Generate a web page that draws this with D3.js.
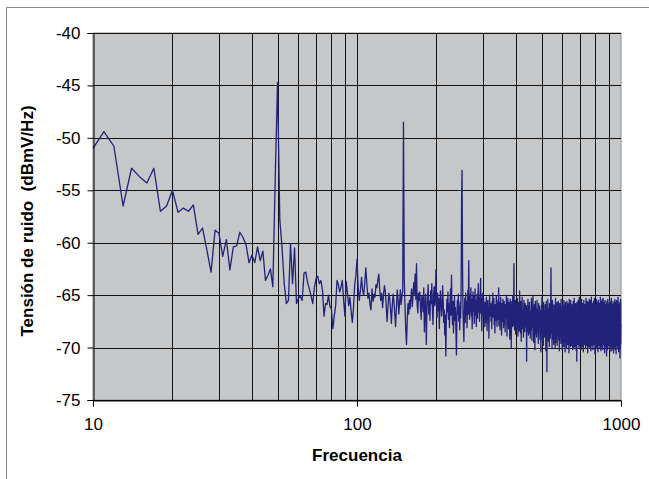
<!DOCTYPE html>
<html>
<head>
<meta charset="utf-8">
<script src="https://cdn.jsdelivr.net/npm/d3@7"></script>
<style>
  body { margin: 0; background: #fff; }
  text { font-family: Arial, "Liberation Sans", sans-serif; }
</style>
</head>
<body>
<div id="chart"></div>
<script>
// noise spectrum, 1 Hz steps
const lowStart = 10;   // 10..90 Hz
const lowBand = [
  -51.0,-49.4,-50.8,-56.5,-52.9,-53.7,-54.3,-52.9,-57.0,-56.5,
  -55.0,-57.1,-56.7,-57.0,-56.4,-59.2,-58.6,-60.7,-62.8,-58.8,
  -59.1,-61.3,-59.7,-62.6,-60.4,-60.3,-59.0,-59.5,-60.2,-61.9,
  -61.2,-61.9,-60.4,-61.7,-60.8,-63.6,-63.1,-62.5,-64.2,-54.0,
  -44.7,
  -57.8,-60.4,-63.9,-65.8,-65.5,-60.1,-63.9,-60.5,-65.8,-65.3,
  -65.1,-65.5,-62.9,-62.8,-63.8,-64.4,-65.1,-65.8,-64.2,-63.4,
  -63.2,-63.9,-63.6,-64.5,-67.0,-65.8,-65.9,-65.0,-66.1,-66.3,
  -68.2,-67.0,-66.0,-63.6,-64.0,-64.7,-64.2,-63.6,-65.5,-67.0
];

const midStart = 91;   // 91..300 Hz
const midBand = [
  -63.7,-64.8,-66.0,-65.2,-66.5,-67.6,-66.2,-64.0,-63.2,-61.6,
  -64.2,-65.5,-64.6,-63.3,-64.5,-65.0,-63.8,-62.4,-64.0,-65.3,
  -64.8,-65.9,-66.4,-64.4,-65.6,-64.9,-65.2,-64.0,-64.3,-63.5,
  -63.0,-64.6,-65.5,-64.8,-66.2,-65.0,-64.1,-64.6,-66.0,-67.5,
  -66.1,-64.8,-65.3,-66.4,-67.7,-66.0,-64.9,-65.6,-66.8,-68.0,
  -66.2,-64.5,-65.4,-66.8,-65.7,-64.5,-65.9,-65.1,-64.6,-48.5,
  -63.5,-66.0,-68.3,-69.7,-67.4,-65.8,-66.8,-65.5,-66.3,-65.2,
  -64.4,-66.1,-65.0,-63.8,-64.9,-63.0,-65.4,-62.0,-65.9,-66.7,
  -64.8,-65.5,-64.7,-66.2,-67.3,-65.1,-65.3,-66.6,-64.3,-68.5,
  -66.0,-64.9,-69.7,-66.5,-65.2,-64.0,-66.8,-65.6,-67.4,-64.6,
  -65.8,-63.9,-66.3,-67.8,-65.0,-64.2,-66.0,-65.4,-62.6,-65.9,
  -67.1,-64.8,-66.5,-65.3,-68.2,-66.0,-64.6,-65.7,-67.0,-66.2,
  -64.1,-65.5,-67.6,-66.4,-68.8,-66.9,-70.8,-67.2,-65.4,-66.6,
  -64.7,-67.3,-65.8,-68.1,-66.0,-64.4,-66.9,-63.1,-66.3,-67.8,
  -65.6,-68.6,-66.7,-65.1,-67.4,-66.2,-68.4,-70.7,-67.0,-65.5,
  -66.8,-64.9,-67.5,-66.1,-68.3,-65.7,-67.2,-64.6,-56.0,-53.1,
  -62.0,-66.4,-68.0,-69.4,-66.7,-65.3,-67.6,-64.8,-66.9,-65.6,
  -68.1,-66.3,-64.5,-66.8,-61.7,-65.9,-67.3,-65.0,-66.6,-64.3,
  -67.0,-65.4,-68.2,-66.0,-64.7,-66.5,-65.1,-67.7,-66.2,-64.4,
  -66.9,-65.5,-68.0,-66.4,-64.9,-67.2,-65.8,-63.9,-66.6,-65.2,
  -67.5,-66.1,-64.6,-63.4,-66.7,-65.3,-68.4,-66.0,-64.8,-66.9
];

const highStart = 301; // 301..1000 Hz
const highBand = [
  -66.8,-65.4,-67.2,-66.1,-68.0,-65.7,-66.5,-67.6,-65.2,-66.9,-68.4,-66.0,-65.5,-67.3,-66.6,-69.1,-66.2,-65.0,-67.0,-66.4,
  -65.8,-67.5,-66.3,-68.2,-65.6,-66.9,-64.8,-67.1,-66.0,-65.3,-67.8,-66.5,-68.6,-65.9,-66.7,-67.4,-65.1,-66.2,-68.0,-66.8,
  -67.3,-65.5,-66.4,-64.3,-67.9,-66.1,-65.7,-68.3,-66.6,-65.2,-67.0,-66.3,-68.8,-65.8,-66.9,-67.5,-65.4,-66.0,-68.1,-66.7,
  -65.6,-67.7,-66.2,-68.5,-65.9,-66.8,-67.2,-65.0,-66.5,-68.9,-66.1,-67.4,-65.3,-66.6,-68.2,-67.0,-65.7,-66.3,-69.2,-66.9,
  -65.4,-67.6,-66.0,-70.0,-66.8,-65.6,-67.3,-68.0,-65.1,-66.7,-67.9,-65.8,-62.0,-66.4,-68.3,-66.2,-67.1,-65.5,-68.7,-66.5,
  -67.4,-65.9,-68.1,-66.6,-65.3,-67.2,-68.9,-66.0,-67.6,-65.7,-66.8,-68.4,-64.6,-67.0,-66.3,-68.6,-65.6,-67.3,-69.4,-66.1,
  -67.8,-65.2,-66.9,-68.2,-66.5,-67.5,-69.0,-66.4,-65.5,-67.7,-66.2,-68.5,-67.1,-65.8,-68.0,-66.7,-67.9,-66.0,-71.3,-67.2,
  -66.3,-68.4,-67.0,-65.4,-67.6,-68.8,-66.1,-67.3,-68.6,-65.7,-67.4,-66.5,-69.1,-66.8,-67.9,-68.3,-66.0,-65.3,-67.5,-69.3,
  -66.6,-67.2,-68.1,-65.0,-67.8,-66.2,-69.5,-66.9,-68.0,-65.9,-67.1,-70.2,-66.7,-65.6,-68.4,-67.0,-68.7,-66.3,-69.0,-67.4,
  -65.5,-67.9,-68.5,-66.4,-67.3,-69.6,-66.8,-65.8,-68.2,-67.0,-66.1,-68.0,-69.2,-66.5,-67.7,-68.9,-70.4,-67.1,-66.0,-68.6,
  -66.7,-65.2,-68.3,-69.3,-66.2,-67.5,-67.0,-69.8,-65.7,-67.8,-68.5,-66.4,-67.2,-69.0,-67.6,-65.9,-68.1,-66.8,-70.3,-67.4,
  -65.6,-68.0,-67.1,-72.3,-66.5,-68.7,-67.3,-65.4,-68.4,-66.9,-69.4,-66.3,-67.9,-67.0,-69.9,-65.8,-68.2,-67.5,-66.1,-69.1,
  -67.2,-65.0,-62.4,-66.6,-68.6,-66.2,-67.7,-70.1,-66.8,-65.5,-68.3,-69.2,-66.4,-67.8,-67.1,-69.7,-65.9,-68.0,-66.7,-68.9,
  -66.0,-67.6,-70.0,-66.9,-65.3,-68.5,-67.4,-69.5,-66.3,-67.0,-68.2,-65.7,-69.8,-67.3,-66.5,-68.8,-66.8,-68.4,-65.6,-67.9,
  -69.3,-66.1,-67.2,-70.3,-68.0,-65.8,-67.5,-69.0,-66.6,-68.3,-66.9,-69.6,-65.4,-67.7,-68.7,-66.2,-68.1,-67.0,-70.2,-67.3,
  -65.9,-68.4,-66.7,-69.4,-66.3,-67.6,-69.9,-65.5,-68.2,-67.1,-69.1,-66.0,-67.8,-70.4,-66.8,-65.7,-68.6,-67.4,-69.5,-66.5,
  -67.7,-70.0,-66.4,-65.6,-68.9,-67.2,-66.1,-69.7,-68.1,-65.8,-67.0,-69.3,-67.5,-66.2,-70.5,-68.0,-65.4,-67.3,-68.8,-66.6,
  -66.0,-68.5,-69.9,-67.1,-65.5,-69.2,-67.6,-66.3,-69.8,-68.2,-65.9,-66.8,-69.0,-67.9,-66.4,-70.2,-68.3,-66.7,-65.6,-68.7,
  -67.4,-66.1,-70.1,-68.4,-65.3,-67.0,-69.6,-67.7,-66.0,-69.9,-68.6,-66.5,-65.8,-69.1,-67.2,-66.6,-70.3,-68.1,-66.9,-71.3,
  -65.7,-68.3,-69.4,-67.0,-66.2,-69.7,-67.8,-65.5,-68.9,-68.0,-66.4,-67.1,-70.0,-67.5,-65.2,-69.5,-68.5,-66.3,-67.3,-69.8,
  -66.8,-65.6,-68.7,-67.9,-66.1,-70.2,-68.2,-66.6,-65.4,-69.3,-67.6,-66.5,-69.9,-68.4,-67.0,-65.8,-69.6,-67.2,-66.0,-70.4,
  -68.1,-66.7,-65.5,-69.0,-67.8,-66.2,-69.7,-68.3,-65.9,-67.1,-69.5,-67.4,-66.3,-70.1,-68.6,-66.9,-65.3,-68.8,-67.7,-66.1,
  -69.8,-68.0,-67.0,-65.6,-69.2,-67.5,-66.4,-70.5,-68.2,-66.8,-65.7,-69.1,-67.9,-66.0,-69.9,-68.5,-66.6,-65.4,-69.4,-67.3,
  -66.2,-70.0,-68.4,-67.1,-65.5,-68.9,-67.8,-66.3,-70.3,-68.1,-67.2,-65.2,-69.3,-67.6,-66.5,-69.8,-68.3,-66.9,-65.8,-68.7,
  -67.4,-66.0,-70.2,-68.6,-66.7,-65.6,-69.5,-67.7,-66.1,-69.7,-68.0,-67.0,-65.3,-69.1,-67.5,-66.4,-70.6,-68.2,-66.8,-65.9,
  -69.6,-67.9,-66.2,-69.9,-68.5,-66.6,-65.4,-69.2,-67.8,-66.0,-70.1,-68.3,-67.3,-65.7,-68.8,-67.6,-66.5,-70.4,-68.1,-66.9,
  -65.5,-69.4,-67.2,-66.3,-69.8,-68.4,-67.0,-65.8,-69.5,-67.7,-66.1,-70.0,-68.2,-66.7,-65.2,-69.0,-67.9,-66.4,-70.3,-68.6,
  -67.1,-65.6,-69.3,-67.4,-66.6,-69.9,-68.7,-66.8,-65.4,-68.9,-67.8,-66.2,-70.2,-68.0,-67.2,-65.3,-69.6,-67.5,-66.5,-69.7,
  -68.3,-66.9,-65.7,-69.1,-67.3,-66.0,-70.5,-68.1,-67.0,-65.5,-69.8,-67.6,-66.4,-69.9,-68.5,-66.7,-65.9,-69.4,-67.1,-66.3,
  -70.1,-70.8,-66.8,-65.6,-69.0,-67.7,-66.1,-70.2,-68.4,-67.2,-65.4,-69.5,-67.4,-66.6,-69.8,-68.0,-66.9,-65.8,-69.6,-67.5,
  -66.2,-70.0,-68.6,-66.7,-65.5,-69.2,-67.1,-66.4,-70.4,-68.3,-67.0,-65.7,-69.4,-67.8,-66.3,-69.9,-68.1,-66.8,-65.3,-69.7,
  -67.6,-66.0,-70.3,-68.5,-66.9,-65.9,-69.1,-67.9,-66.5,-70.0,-68.7,-67.2,-65.6,-68.9,-67.3,-66.2,-70.5,-68.2,-67.0,-65.8,
  -69.5,-67.7,-66.1,-69.9,-68.0,-66.8,-65.4,-69.3,-67.2,-66.6,-70.2,-68.4,-66.7,-65.7,-69.4,-67.5,-66.0,-70.6,-68.3,-66.9,
  -65.5,-69.0,-67.8,-66.4,-69.8,-68.6,-67.1,-65.6,-69.6,-67.4,-66.3,-70.1,-68.2,-67.0,-65.2,-69.2,-67.9,-66.5,-70.4,-68.1,
  -66.8,-65.9,-69.5,-67.6,-66.2,-69.9,-68.8,-66.6,-65.7,-69.1,-71.0,-67.5,-66.1,-70.0,-68.4,-67.3,-65.4,-69.6,-67.7,-68.0
];

const yTicks = [-75, -70, -65, -60, -55, -50, -45, -40];
const xLabels = [10, 100, 1000];
const xGrid = [20, 30, 40, 50, 60, 70, 80, 90, 100, 200, 300, 400, 500, 600, 700, 800, 900];

const xTitle = "Frecuencia";
const yTitle = "Tensión de ruido  (dBmV/Hz)";

// build points
const points = [];
[[lowStart, lowBand], [midStart, midBand], [highStart, highBand]].forEach(([s, arr]) => {
  arr.forEach((v, i) => points.push({ f: s + i, v: v }));
});

const width = 649, height = 479;
const plotLeft = 93, plotTop = 33, plotRight = 621, plotBottom = 400;

const svg = d3.select("#chart").append("svg")
  .attr("width", width)
  .attr("height", height);

// outer chart border (runs off right/bottom)
svg.append("rect")
  .attr("x", 6.5).attr("y", 7.5)
  .attr("width", 720).attr("height", 600)
  .attr("fill", "none")
  .attr("stroke", "#8c8c8c");

const x = d3.scaleLog().domain([10, 1000]).range([plotLeft, plotRight]);
const y = d3.scaleLinear().domain([-75, -40]).range([plotBottom, plotTop]);

// plot area
svg.append("rect")
  .attr("x", plotLeft).attr("y", plotTop)
  .attr("width", plotRight - plotLeft).attr("height", plotBottom - plotTop)
  .attr("fill", "#c6c7c9")
  .attr("stroke", "#8c8c8c");

// grid
const px = v => Math.round(v) + 0.5;
svg.append("g").selectAll("line")
  .data(xGrid)
  .enter().append("line")
  .attr("x1", d => px(x(d))).attr("x2", d => px(x(d)))
  .attr("y1", plotTop).attr("y2", plotBottom)
  .attr("stroke", "#111").attr("stroke-width", 1);

svg.append("g").selectAll("line")
  .data(yTicks)
  .enter().append("line")
  .attr("x1", plotLeft).attr("x2", plotRight)
  .attr("y1", d => px(y(d))).attr("y2", d => px(y(d)))
  .attr("stroke", "#111").attr("stroke-width", 1);

// series
svg.append("path")
  .datum(points)
  .attr("fill", "none")
  .attr("stroke", "#22227a")
  .attr("stroke-width", 1.3)
  .attr("stroke-linejoin", "round")
  .attr("d", d3.line().x(d => x(d.f)).y(d => y(d.v)));

// axes
const yAxis = svg.append("g")
  .attr("transform", `translate(${plotLeft + 0.5},0)`)
  .call(d3.axisLeft(y).tickValues(yTicks).tickSize(6).tickPadding(7).tickFormat(d => String(d)));

const xAxis = svg.append("g")
  .attr("transform", `translate(0,${plotBottom + 0.5})`)
  .call(d3.axisBottom(x).tickValues(xLabels).tickSize(6).tickPadding(11).tickFormat(d => String(d)));

[yAxis, xAxis].forEach(a => {
  a.select(".domain").attr("stroke", "#000");
  a.selectAll(".tick line").attr("stroke", "#000");
  a.selectAll(".tick text")
    .attr("fill", "#000")
    .style("font-size", "17px")
    .style("font-family", "Arial, 'Liberation Sans', sans-serif");
});

// titles
svg.append("text")
  .attr("x", (plotLeft + plotRight) / 2)
  .attr("y", 461)
  .attr("text-anchor", "middle")
  .style("font-size", "17px")
  .style("font-weight", "bold")
  .text(xTitle);

svg.append("text")
  .attr("transform", "translate(33,221) rotate(-90)")
  .attr("text-anchor", "middle")
  .style("font-size", "17px")
  .style("font-weight", "bold")
  .style("white-space", "pre")
  .text(yTitle);
</script>
</body>
</html>
